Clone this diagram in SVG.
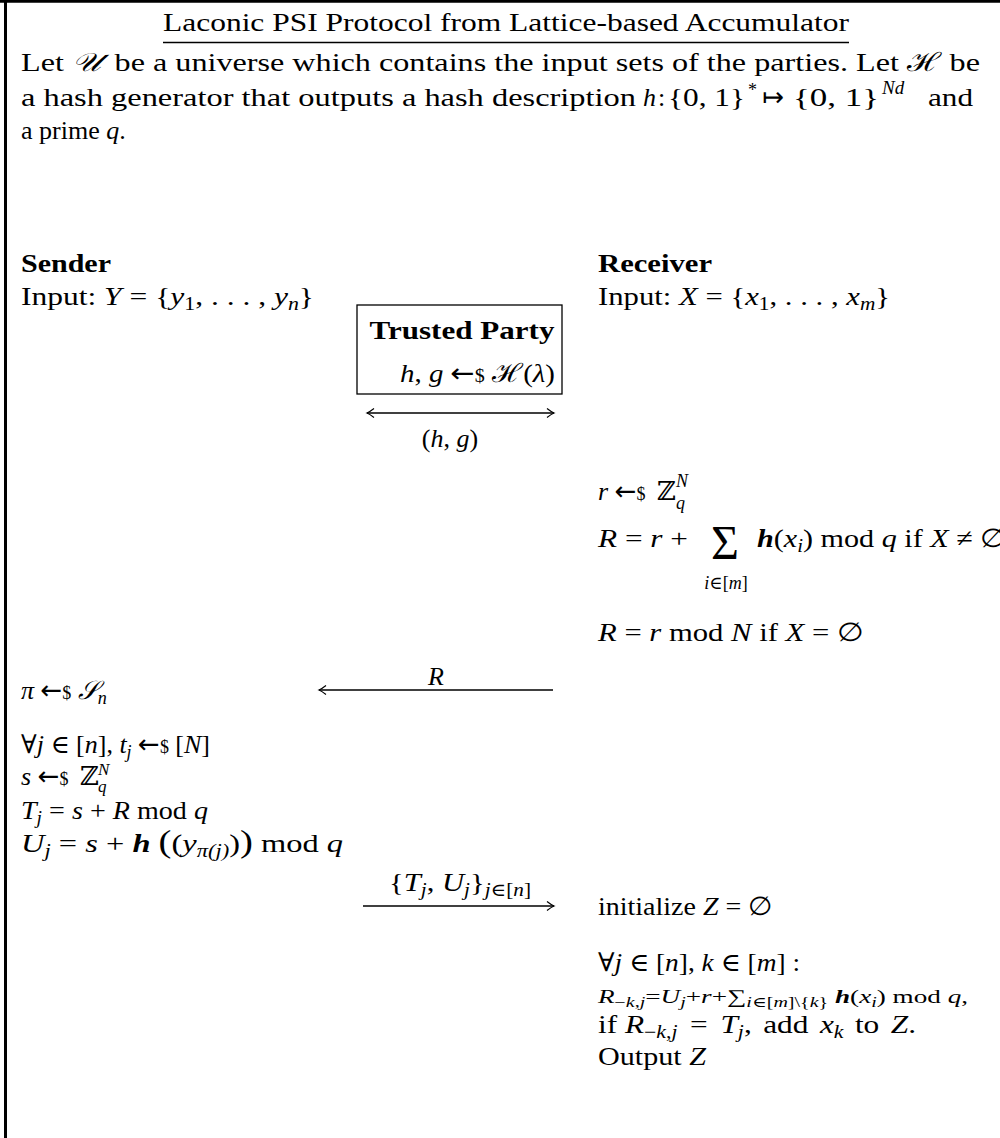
<svg xmlns="http://www.w3.org/2000/svg" width="1000" height="1138" viewBox="0 0 1000 1138">
<style>
.t{font-family:"Liberation Serif","DejaVu Serif",serif;font-size:26px;fill:#000}
.i{font-style:italic}
.b{font-weight:bold}
.bi{font-weight:bold;font-style:italic}
.s{font-size:18px}
.ss{font-size:17px}
.sm{font-size:19px}
.xs{font-size:14px}
.big{font-size:48px}
.ar{font-family:"DejaVu Sans",sans-serif;font-style:normal}
.ln{stroke:#000;stroke-width:1.3;fill:none}
</style>
<defs>
<marker id="ah" markerUnits="userSpaceOnUse" markerWidth="14" markerHeight="14" viewBox="-10 -7 12 14" refX="0" refY="0" orient="auto-start-reverse">
<path d="M -7 -4.5 Q -2.5 -1 0 0 Q -2.5 1 -7 4.5" fill="none" stroke="#000" stroke-width="1.2"/>
</marker>
</defs>
<rect x="0" y="0" width="1000" height="1138" fill="#fff"/>
<g id="frame">
<line x1="0" y1="1.3" x2="1000" y2="1.3" stroke="#000" stroke-width="2.7"/>
<line x1="5.5" y1="0" x2="5.5" y2="1138" stroke="#000" stroke-width="3"/>
</g>
<g id="title">
<text class="t" x="506" y="31" text-anchor="middle" textLength="686" lengthAdjust="spacingAndGlyphs">Laconic PSI Protocol from Lattice-based Accumulator</text>
<line x1="163" y1="42.5" x2="849" y2="42.5" stroke="#000" stroke-width="1.3"/>
</g>
<g id="intro">
<text class="t" x="21" y="71" textLength="959" lengthAdjust="spacingAndGlyphs">Let <tspan class="i">𝒰</tspan><tspan dx="5"> be a universe which contains the input sets of the parties. Let </tspan><tspan>ℋ</tspan> be</text>
<text class="t" x="21" y="106" textLength="615" lengthAdjust="spacingAndGlyphs">a hash generator that outputs a hash description</text>
<text class="t i" x="643" y="106">h</text>
<text class="t" x="658" y="106">:</text>
<text class="t" x="668" y="106" textLength="77" lengthAdjust="spacingAndGlyphs">{0, 1}</text>
<text class="t s" x="748" y="96">*</text>
<text class="t ar" x="762" y="106">↦</text>
<text class="t" x="793" y="106" textLength="86" lengthAdjust="spacingAndGlyphs">{0, 1}</text>
<text class="t i sm" x="882" y="94">Nd</text>
<text class="t" x="928" y="106" textLength="45" lengthAdjust="spacingAndGlyphs">and</text>
<text class="t" x="21" y="139">a prime <tspan class="i">q</tspan>.</text>
</g>
<g id="sender">
<text class="t b" x="21" y="272" textLength="90" lengthAdjust="spacingAndGlyphs">Sender</text>
<text class="t" x="21" y="305" textLength="293" lengthAdjust="spacingAndGlyphs">Input: <tspan class="i">Y</tspan> = {<tspan class="i">y</tspan><tspan class="s" dy="5">1</tspan><tspan dy="-5">, . . . , </tspan><tspan class="i">y</tspan><tspan class="s i" dy="5">n</tspan><tspan dy="-5">}</tspan></text>
</g>
<g id="receiver">
<text class="t b" x="598" y="272" textLength="114" lengthAdjust="spacingAndGlyphs">Receiver</text>
<text class="t" x="598" y="305" textLength="292" lengthAdjust="spacingAndGlyphs">Input: <tspan class="i">X</tspan> = {<tspan class="i">x</tspan><tspan class="s" dy="5">1</tspan><tspan dy="-5">, . . . , </tspan><tspan class="i">x</tspan><tspan class="s i" dy="5">m</tspan><tspan dy="-5">}</tspan></text>
</g>
<g id="trusted-party">
<rect x="357" y="305" width="205" height="89" class="ln"/>
<text class="t b" x="462" y="339" text-anchor="middle" textLength="185" lengthAdjust="spacingAndGlyphs">Trusted Party</text>
<text class="t" x="400" y="382" textLength="155" lengthAdjust="spacingAndGlyphs"><tspan class="i">h</tspan>, <tspan class="i">g</tspan> <tspan class="ar">←</tspan><tspan class="s">$</tspan> ℋ(<tspan class="i">λ</tspan>)</text>
</g>
<g id="receiver-setup">
<text class="t" x="598" y="500"><tspan class="i">r</tspan> <tspan class="ar">←</tspan><tspan class="s">$</tspan></text>
<text class="t" x="657" y="500">ℤ</text>
<text class="t s i" x="676" y="487">N</text>
<text class="t s i" x="676" y="509">q</text>
<text class="t" x="598" y="547" textLength="90" lengthAdjust="spacingAndGlyphs"><tspan class="i">R</tspan> = <tspan class="i">r</tspan> +</text>
<text class="t big" x="725" y="559" text-anchor="middle">Σ</text>
<text class="t s" x="726" y="589" text-anchor="middle"><tspan class="i">i</tspan>∈[<tspan class="i">m</tspan>]</text>
<text class="t" x="757" y="547" textLength="250" lengthAdjust="spacingAndGlyphs"><tspan class="bi">h</tspan>(<tspan class="i">x</tspan><tspan class="s i" dy="5">i</tspan><tspan dy="-5">) mod </tspan><tspan class="i">q</tspan> if <tspan class="i">X</tspan> ≠ ∅</text>
<text class="t" x="598" y="641" textLength="266" lengthAdjust="spacingAndGlyphs"><tspan class="i">R</tspan> = <tspan class="i">r</tspan> mod <tspan class="i">N</tspan> if <tspan class="i">X</tspan> = ∅</text>
</g>
<g id="sender-compute">
<text class="t" x="21" y="699"><tspan class="i">π</tspan> <tspan class="ar">←</tspan><tspan class="s">$</tspan> <tspan class="i">𝒮</tspan><tspan class="s i" dy="5">n</tspan></text>
<text class="t" x="21" y="753" textLength="189" lengthAdjust="spacingAndGlyphs">∀<tspan class="i">j</tspan> ∈ [<tspan class="i">n</tspan>], <tspan class="i">t</tspan><tspan class="s i" dy="5">j</tspan><tspan dy="-5"> </tspan><tspan class="ar">←</tspan><tspan class="s">$</tspan> [<tspan class="i">N</tspan>]</text>
<text class="t" x="21" y="785"><tspan class="i">s</tspan> <tspan class="ar">←</tspan><tspan class="s">$</tspan></text>
<text class="t" x="80" y="785">ℤ</text>
<text class="t ss i" x="98" y="775">N</text>
<text class="t ss i" x="98" y="792">q</text>
<text class="t" x="21" y="819" textLength="187" lengthAdjust="spacingAndGlyphs"><tspan class="i">T</tspan><tspan class="s i" dy="5">j</tspan><tspan dy="-5"> = </tspan><tspan class="i">s</tspan> + <tspan class="i">R</tspan> mod <tspan class="i">q</tspan></text>
<text class="t" x="21" y="852" textLength="322" lengthAdjust="spacingAndGlyphs"><tspan class="i">U</tspan><tspan class="s i" dy="5">j</tspan><tspan dy="-5"> = </tspan><tspan class="i">s</tspan> + <tspan class="bi">h</tspan> <tspan style="font-size:31px">(</tspan>(<tspan class="i">y</tspan><tspan class="s i" dy="5">π(j)</tspan><tspan dy="-5">)</tspan><tspan style="font-size:31px">)</tspan> mod <tspan class="i">q</tspan></text>
</g>
<g id="receiver-output">
<text class="t" x="598" y="915" textLength="175" lengthAdjust="spacingAndGlyphs">initialize <tspan class="i">Z</tspan> = ∅</text>
<text class="t" x="598" y="971" textLength="202" lengthAdjust="spacingAndGlyphs">∀<tspan class="i">j</tspan> ∈ [<tspan class="i">n</tspan>], <tspan class="i">k</tspan> ∈ [<tspan class="i">m</tspan>] :</text>
<text class="t sm" x="598" y="1003" textLength="370" lengthAdjust="spacingAndGlyphs"><tspan class="i">R</tspan><tspan class="xs" dy="4">−<tspan class="i">k</tspan>,<tspan class="i">j</tspan></tspan><tspan dy="-4">=</tspan><tspan class="i">U</tspan><tspan class="xs i" dy="4">j</tspan><tspan dy="-4">+</tspan><tspan class="i">r</tspan>+∑<tspan class="xs" dy="4"><tspan class="i">i</tspan>∈[<tspan class="i">m</tspan>]\{<tspan class="i">k</tspan>}</tspan><tspan dy="-4"> </tspan><tspan class="bi">h</tspan>(<tspan class="i">x</tspan><tspan class="xs i" dy="4">i</tspan><tspan dy="-4">) mod </tspan><tspan class="i">q</tspan>,</text>
<text class="t" x="598" y="1033" textLength="318" lengthAdjust="spacingAndGlyphs">if <tspan class="i">R</tspan><tspan class="s" dy="5">−<tspan class="i">k</tspan>,<tspan class="i">j</tspan></tspan><tspan dy="-5" dx="4"> = </tspan><tspan class="i" dx="4">T</tspan><tspan class="s i" dy="5">j</tspan><tspan dy="-5">, </tspan><tspan dx="3">add </tspan><tspan class="i" dx="3">x</tspan><tspan class="s i" dy="5">k</tspan><tspan dy="-5" dx="3"> to </tspan><tspan class="i" dx="3">Z</tspan>.</text>
<text class="t" x="598" y="1065" textLength="108" lengthAdjust="spacingAndGlyphs">Output <tspan class="i">Z</tspan></text>
</g>
<g id="connectors">
<line class="ln" x1="367" y1="413" x2="554" y2="413" marker-start="url(#ah)" marker-end="url(#ah)"/>
<text class="t" x="450" y="447" text-anchor="middle">(<tspan class="i">h</tspan>, <tspan class="i">g</tspan>)</text>
<line class="ln" x1="553" y1="690" x2="319" y2="690" marker-end="url(#ah)"/>
<text class="t i" x="436" y="685" text-anchor="middle">R</text>
<line class="ln" x1="363" y1="906" x2="554" y2="906" marker-end="url(#ah)"/>
<text class="t" x="460" y="891" text-anchor="middle" textLength="142" lengthAdjust="spacingAndGlyphs">{<tspan class="i">T</tspan><tspan class="s i" dy="5">j</tspan><tspan dy="-5">, </tspan><tspan class="i">U</tspan><tspan class="s i" dy="5">j</tspan><tspan dy="-5">}</tspan><tspan class="s" dy="5"><tspan class="i">j</tspan>∈[<tspan class="i">n</tspan>]</tspan></text>
</g>
</svg>
